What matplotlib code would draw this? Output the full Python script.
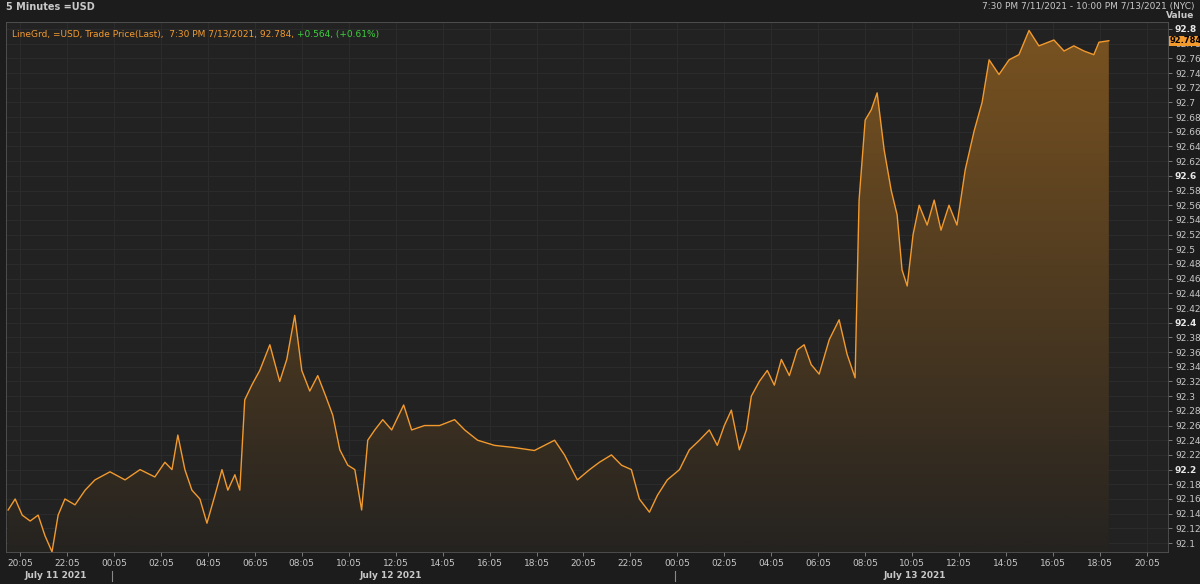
import numpy as np
import matplotlib.pyplot as plt
from matplotlib.patches import Polygon

# hours since 20:05 on July 11 2021
hours = [-0.51, -0.21, 0.09, 0.43, 0.77, 1.06, 1.36, 1.62, 1.91, 2.34, 2.77, 3.19, 3.83, 4.47,
         5.11, 5.74, 6.17, 6.47, 6.72, 7.02, 7.32, 7.66, 7.96, 8.3, 8.6, 8.85, 9.15, 9.36, 9.57,
         9.87, 10.21, 10.64, 11.06, 11.36, 11.7, 12.0, 12.34, 12.68, 13.02, 13.32, 13.62, 13.96,
         14.26, 14.55, 14.81, 15.11, 15.45, 15.83, 16.34, 16.68, 17.23, 17.87, 18.51, 18.94,
         19.49, 20.21, 21.06, 21.91, 22.77, 23.19, 23.74, 24.26, 24.68, 25.19, 25.62, 26.04,
         26.38, 26.81, 27.15, 27.57, 28.09, 28.51, 28.94, 29.36, 29.7, 30.0, 30.3, 30.64, 30.94,
         31.15, 31.49, 31.83, 32.13, 32.43, 32.77, 33.11, 33.4, 33.7, 34.04, 34.47, 34.89,
         35.23, 35.57, 35.74, 36.0, 36.26, 36.51, 36.81, 37.11, 37.36, 37.57, 37.79, 38.04,
         38.3, 38.64, 38.94, 39.23, 39.57, 39.91, 40.26, 40.64, 40.98, 41.28, 41.7, 42.13,
         42.55, 42.98, 43.4, 44.04, 44.47, 44.89, 45.32, 45.74, 45.96, 46.38]
price = [92.145, 92.16, 92.138, 92.13, 92.138, 92.11, 92.088, 92.138, 92.16, 92.152, 92.172,
         92.186, 92.197, 92.186, 92.20, 92.19, 92.21, 92.20, 92.247, 92.20, 92.172, 92.16,
         92.127, 92.165, 92.20, 92.172, 92.193, 92.172, 92.295, 92.315, 92.335, 92.37, 92.32,
         92.35, 92.41, 92.335, 92.307, 92.328, 92.30, 92.274, 92.227, 92.206, 92.20, 92.145,
         92.24, 92.254, 92.268, 92.254, 92.288, 92.254, 92.26, 92.26, 92.268, 92.254, 92.24,
         92.233, 92.23, 92.226, 92.24, 92.22, 92.186, 92.20, 92.21, 92.22, 92.206, 92.20,
         92.16, 92.142, 92.165, 92.186, 92.20, 92.227, 92.24, 92.254, 92.233, 92.26, 92.281,
         92.227, 92.254, 92.30, 92.32, 92.335, 92.315, 92.35, 92.328, 92.363, 92.37, 92.343,
         92.33, 92.377, 92.404, 92.357, 92.325, 92.567, 92.676, 92.69, 92.713, 92.635, 92.58,
         92.547, 92.472, 92.45, 92.52, 92.56, 92.533, 92.567, 92.526, 92.56, 92.533, 92.608,
         92.661, 92.70, 92.758, 92.738, 92.758, 92.765, 92.798, 92.777, 92.785, 92.77, 92.777,
         92.77, 92.765, 92.782, 92.784]
tick_labels = ['20:05', '22:05', '00:05', '02:05', '04:05', '06:05', '08:05', '10:05', '12:05',
               '14:05', '16:05', '18:05', '20:05', '22:05', '00:05', '02:05', '04:05', '06:05',
               '08:05', '10:05', '12:05', '14:05', '16:05', '18:05', '20:05']
date_labels = ['July 11 2021', 'July 12 2021', 'July 13 2021']
date_pos = [1.5, 15.8, 38.1]

BG = '#1c1c1c'
PLOT = '#222222'
ORANGE = '#f29a2e'
TXT = '#c8c8c8'

fig = plt.figure(figsize=(12, 5.84), dpi=100, facecolor=BG)
ax = fig.add_axes([6 / 1200, 32 / 584, 1162 / 1200, 530 / 584], facecolor=PLOT)
ymin, ymax = 92.0878, 92.8095
xmin, xmax = -0.6, 48.9
ax.set_xlim(xmin, xmax)
ax.set_ylim(ymin, ymax)

# gradient fill under line
grad = np.linspace(0, 1, 256).reshape(-1, 1)
cmap = plt.matplotlib.colors.LinearSegmentedColormap.from_list('g', ['#252320', '#7a5320'])
im = ax.imshow(grad, extent=[xmin, xmax, ymin, ymax], origin='lower', aspect='auto',
               cmap=cmap, zorder=1)
poly = Polygon(list(zip(hours, price)) + [(hours[-1], ymin), (hours[0], ymin)],
               closed=True, transform=ax.transData, facecolor='none', edgecolor='none')
ax.add_patch(poly)
im.set_clip_path(poly)
ax.plot(hours, price, color=ORANGE, lw=1.0, zorder=3)

xt = np.arange(len(tick_labels)) * 2
ax.set_xticks(xt)
ax.set_xticklabels(tick_labels, fontsize=6.5)
yt = np.round(np.arange(92.10, 92.801, 0.02), 2)
ax.set_yticks(yt)
ax.set_yticklabels([('%g' % v) for v in yt], fontsize=6.5)
ax.yaxis.tick_right()
ax.tick_params(axis='both', colors='#888888', length=3, width=0.6, pad=2)
ax.tick_params(axis='x', labelcolor=TXT)
ax.tick_params(axis='y', labelcolor=TXT)
for lab, v in zip(ax.get_yticklabels(), yt):
    if round(v * 100) % 20 == 0:
        lab.set_fontweight('bold')
        lab.set_color('#e8e8e8')
ax.grid(True, color='#2b2b2b', lw=0.8, zorder=0)
ax.set_axisbelow(True)
for s in ax.spines.values():
    s.set_color('#555555')
    s.set_linewidth(0.6)

for d, p in zip(date_labels, date_pos):
    ax.text(p, -0.036, d, transform=ax.get_xaxis_transform(), fontsize=6.5,
            fontweight='bold', color=TXT, ha='center', va='top')
for m in [3.92, 27.92]:
    ax.plot([m, m], [-0.036, -0.055], transform=ax.get_xaxis_transform(), color='#888888',
            lw=0.8, clip_on=False)

# header texts
fig.text(6 / 1200, 1 - 7 / 584, '5 Minutes =USD', fontsize=7, fontweight='bold', color=TXT, va='center')
fig.text(1 - 6 / 1200, 1 - 7 / 584, '7:30 PM 7/11/2021 - 10:00 PM 7/13/2021 (NYC)', fontsize=6.5,
         color=TXT, va='center', ha='right')
fig.text(1 - 6 / 1200, 1 - 16 / 584, 'Value', fontsize=6.5, fontweight='bold', color=TXT,
         va='center', ha='right')
t = ax.text(0.005, 0.985, 'LineGrd, =USD, Trade Price(Last),  7:30 PM 7/13/2021, 92.784, ',
            transform=ax.transAxes, fontsize=6.5, color=ORANGE, va='top')
fig.canvas.draw()
bb = t.get_window_extent().transformed(ax.transAxes.inverted())
ax.text(bb.x1, 0.985, '+0.564, (+0.61%)', transform=ax.transAxes, fontsize=6.5,
        color='#3ecf3e', va='top')
ax.text(1.0015, price[-1], '92.784', transform=ax.get_yaxis_transform(), fontsize=6,
        color='black', va='center', ha='left', fontweight='bold',
        bbox=dict(boxstyle='square,pad=0.08', fc='#f29a2e', ec='none'), zorder=5, clip_on=False)

fig.savefig('out.png', dpi=100, facecolor=BG)
